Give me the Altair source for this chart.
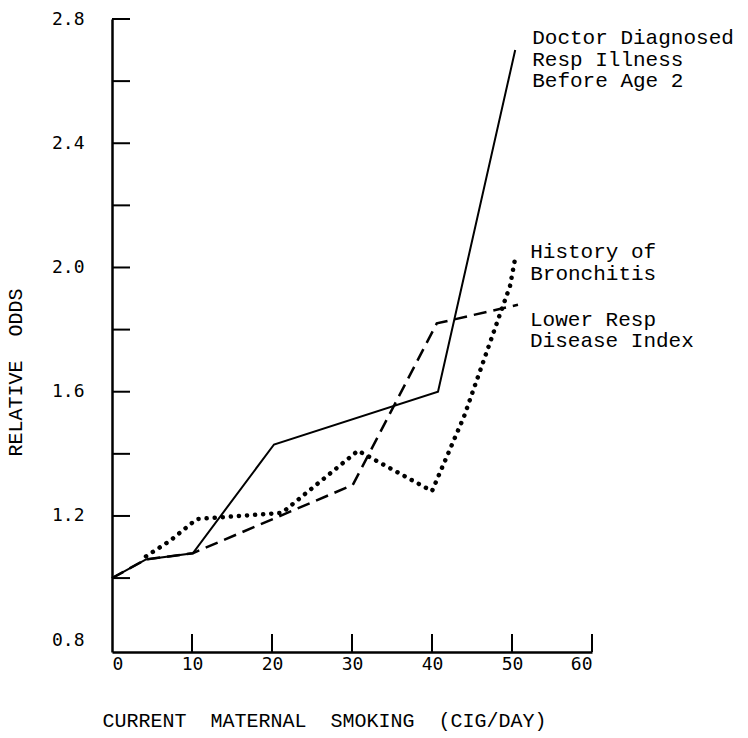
import altair as alt
import pandas as pd

# ---- data ----
doctor_x = [0, 4.25, 10.1, 20.25, 40.75, 50.4]
doctor_y = [1.00, 1.06, 1.08, 1.43, 1.60, 2.70]

lower_x = [0, 4.25, 10.1, 30.1, 40.6, 50.75]
lower_y = [1.00, 1.06, 1.08, 1.30, 1.82, 1.88]

bronch_x = [4.25, 7.25, 10.6, 21.25, 30.75, 40.0, 44.0, 48.5, 49.75, 50.4]
bronch_y = [1.07, 1.12, 1.19, 1.21, 1.41, 1.28, 1.52, 1.85, 1.94, 2.03]

doctor_label = "Doctor Diagnosed\nResp Illness\nBefore Age 2"
bronch_label = "History of\nBronchitis"
lower_label = "Lower Resp\nDisease Index"

x_label_values = [0, 10, 20, 30, 40, 50, 60]
x_tick_values = [10, 20, 30, 40, 50, 60]
y_label_values = [0.8, 1.2, 1.6, 2.0, 2.4, 2.8]
y_tick_values = [1.0, 1.2, 1.4, 1.6, 1.8, 2.0, 2.2, 2.4, 2.6, 2.8]

GAP = "\u00a0\u00a0"
x_title = GAP.join(["CURRENT", "MATERNAL", "SMOKING", "(CIG/DAY)"])
y_title = GAP.join(["RELATIVE", "ODDS"])

# ---- layout ----
W, H = 480, 633
xscale = alt.Scale(domain=[0, 60], nice=False, zero=False)
yscale = alt.Scale(domain=[0.762, 2.8], nice=False, zero=False)

x_axis = alt.Axis(values=x_label_values, tickSize=0, labelPadding=3,
                  title=x_title, titleX=212, titleY=68,
                  titleBaseline="middle", titleAlign="center", grid=False)
y_axis = alt.Axis(values=y_label_values, format=".1f", tickSize=0,
                  labelPadding=28, title=y_title, titleX=-97, titleY=353,
                  titleBaseline="middle", titleAlign="center", grid=False)


def series_df(xs, ys):
    return pd.DataFrame({"x": xs, "y": ys, "i": list(range(len(xs)))})


def label_df(xs, ys, text):
    return pd.DataFrame({"x": [xs[-1]], "y": [ys[-1]], "label": [text]})


x_enc = alt.X("x:Q", scale=xscale, axis=x_axis)
y_enc = alt.Y("y:Q", scale=yscale, axis=y_axis)

doctor = alt.Chart(series_df(doctor_x, doctor_y)).mark_line(
    color="black", strokeWidth=2
).encode(x=x_enc, y=y_enc, order="i:Q")

lower = alt.Chart(series_df(lower_x, lower_y)).mark_line(
    color="black", strokeWidth=2.5, strokeDash=[13, 7]
).encode(x=x_enc, y=y_enc, order="i:Q")

bronch = alt.Chart(series_df(bronch_x, bronch_y)).mark_line(
    color="black", strokeWidth=4.5, strokeDash=[0.1, 8], strokeCap="round"
).encode(x=x_enc, y=y_enc, order="i:Q")

yticks = alt.Chart(pd.DataFrame({"y": y_tick_values})).mark_rule(
    color="black", strokeWidth=2
).encode(y=y_enc, x=alt.value(0), x2=alt.value(18))

xticks = alt.Chart(pd.DataFrame({"x": x_tick_values})).mark_rule(
    color="black", strokeWidth=2
).encode(x=x_enc, y=alt.value(H), y2=alt.value(H - 18))

text_style = dict(align="left", baseline="alphabetic", font="Liberation Mono",
                  fontSize=21, lineBreak="\n", lineHeight=21.5, color="black")

doctor_txt = alt.Chart(label_df(doctor_x, doctor_y, doctor_label)).mark_text(
    dx=17, dy=-6, **text_style
).encode(x=x_enc, y=y_enc, text="label:N")

bronch_txt = alt.Chart(label_df(bronch_x, bronch_y, bronch_label)).mark_text(
    dx=15, dy=0, **text_style
).encode(x=x_enc, y=y_enc, text="label:N")

lower_txt = alt.Chart(label_df(lower_x, lower_y, lower_label)).mark_text(
    dx=12, dy=21, **text_style
).encode(x=x_enc, y=y_enc, text="label:N")

chart = alt.layer(
    doctor, lower, bronch, yticks, xticks, doctor_txt, bronch_txt, lower_txt
).properties(
    width=W, height=H,
    autosize=alt.AutoSizeParams(type="none"),
    padding={"left": 112, "top": 19, "right": 156, "bottom": 86},
    background="white",
).configure_view(stroke=None).configure_axis(
    domainColor="black", domainWidth=2.5, labelColor="black", titleColor="black",
    labelFont="DejaVu Sans Mono", labelFontSize=18,
    titleFont="Liberation Mono", titleFontSize=20, titleFontWeight="normal",
    grid=False,
)

chart.save("out.html", embed_options={"renderer": "svg", "actions": False})
